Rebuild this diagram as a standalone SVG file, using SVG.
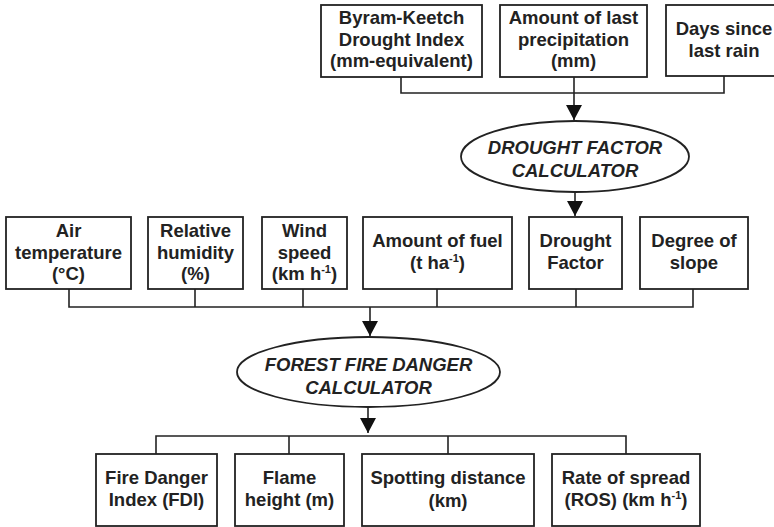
<svg xmlns="http://www.w3.org/2000/svg" width="774" height="527" viewBox="0 0 774 527">
<defs>
<style>
.box{fill:#fff;stroke:#222;stroke-width:1.8}
.ell{fill:#fff;stroke:#222;stroke-width:1.8}
.t{font-family:"Liberation Sans",Arial,Helvetica,sans-serif;font-weight:bold;font-size:18.5px;fill:#222;text-anchor:middle}
.ti{font-style:italic}
.sup{font-size:11px}
.ln{fill:none;stroke:#222;stroke-width:1.6}
</style>
<marker id="ah" markerUnits="userSpaceOnUse" markerWidth="17" markerHeight="17" refX="15" refY="8" orient="auto">
<path d="M0,0 L15,8 L0,16 Z" fill="#111"/>
</marker>
</defs>
<rect width="774" height="527" fill="#fff"/>

<g id="connectors">
<polyline class="ln" points="401,77 401,93 724,93 724,76"/>
<line class="ln" x1="574" y1="77" x2="574" y2="120" marker-end="url(#ah)"/>
<line class="ln" x1="575" y1="192" x2="575" y2="216" marker-end="url(#ah)"/>
<polyline class="ln" points="69,289 69,307 693,307 693,289"/>
<line class="ln" x1="195" y1="289" x2="195" y2="307"/>
<line class="ln" x1="303" y1="289" x2="303" y2="307"/>
<line class="ln" x1="437" y1="289" x2="437" y2="307"/>
<line class="ln" x1="576" y1="289" x2="576" y2="307"/>
<line class="ln" x1="370" y1="307" x2="370" y2="336" marker-end="url(#ah)"/>
<line class="ln" x1="368" y1="407" x2="368" y2="433" marker-end="url(#ah)"/>
<polyline class="ln" points="156,454 156,436 626,436 626,454"/>
<line class="ln" x1="289" y1="436" x2="289" y2="454"/>
<line class="ln" x1="448" y1="436" x2="448" y2="454"/>
</g>

<g id="bkdi">
<rect class="box" x="321" y="5" width="161" height="72"/>
<text class="t" x="401.5" y="24">Byram-Keetch</text>
<text class="t" x="401.5" y="45.5">Drought Index</text>
<text class="t" x="401.5" y="67">(mm-equivalent)</text>
</g>
<g id="precip">
<rect class="box" x="500" y="5" width="147" height="72"/>
<text class="t" x="573.5" y="24">Amount of last</text>
<text class="t" x="573.5" y="45.5">precipitation</text>
<text class="t" x="573.5" y="67">(mm)</text>
</g>
<g id="days">
<rect class="box" x="666" y="5" width="116" height="71"/>
<text class="t" x="724" y="35">Days since</text>
<text class="t" x="724" y="57">last rain</text>
</g>

<g id="dfc">
<ellipse class="ell" cx="575" cy="156.5" rx="114" ry="35.5"/>
<text class="t ti" x="575" y="154">DROUGHT FACTOR</text>
<text class="t ti" x="575" y="177">CALCULATOR</text>
</g>

<g id="airtemp">
<rect class="box" x="6" y="217" width="125" height="72"/>
<text class="t" x="68.5" y="237">Air</text>
<text class="t" x="68.5" y="258.5">temperature</text>
<text class="t" x="68.5" y="280">(°C)</text>
</g>
<g id="humidity">
<rect class="box" x="148" y="217" width="95" height="72"/>
<text class="t" x="195.5" y="237">Relative</text>
<text class="t" x="195.5" y="258.5">humidity</text>
<text class="t" x="195.5" y="280">(%)</text>
</g>
<g id="wind">
<rect class="box" x="262" y="217" width="85" height="72"/>
<text class="t" x="304.5" y="237">Wind</text>
<text class="t" x="304.5" y="258.5">speed</text>
<text class="t" x="304.5" y="280">(km h<tspan class="sup" dy="-7">-1</tspan><tspan dy="7">)</tspan></text>
</g>
<g id="fuel">
<rect class="box" x="363" y="217" width="149" height="72"/>
<text class="t" x="437.5" y="247">Amount of fuel</text>
<text class="t" x="437.5" y="268.5">(t ha<tspan class="sup" dy="-7">-1</tspan><tspan dy="7">)</tspan></text>
</g>
<g id="droughtfactor">
<rect class="box" x="529" y="217" width="93" height="72"/>
<text class="t" x="575.5" y="247">Drought</text>
<text class="t" x="575.5" y="268.5">Factor</text>
</g>
<g id="slope">
<rect class="box" x="640" y="217" width="108" height="72"/>
<text class="t" x="694" y="247">Degree of</text>
<text class="t" x="694" y="268.5">slope</text>
</g>

<g id="ffdc">
<ellipse class="ell" cx="368.5" cy="372" rx="131.5" ry="35"/>
<text class="t ti" x="368.5" y="371">FOREST FIRE DANGER</text>
<text class="t ti" x="368.5" y="393.5">CALCULATOR</text>
</g>

<g id="fdi">
<rect class="box" x="96" y="454" width="121" height="72"/>
<text class="t" x="156.5" y="484">Fire Danger</text>
<text class="t" x="156.5" y="506">Index (FDI)</text>
</g>
<g id="flame">
<rect class="box" x="235" y="454" width="109" height="72"/>
<text class="t" x="289.5" y="484">Flame</text>
<text class="t" x="289.5" y="506">height (m)</text>
</g>
<g id="spotting">
<rect class="box" x="362" y="454" width="172" height="72"/>
<text class="t" x="448" y="484">Spotting distance</text>
<text class="t" x="448" y="507">(km)</text>
</g>
<g id="ros">
<rect class="box" x="552" y="454" width="148" height="72"/>
<text class="t" x="626" y="484">Rate of spread</text>
<text class="t" x="626" y="506">(ROS) (km h<tspan class="sup" dy="-7">-1</tspan><tspan dy="7">)</tspan></text>
</g>
</svg>
